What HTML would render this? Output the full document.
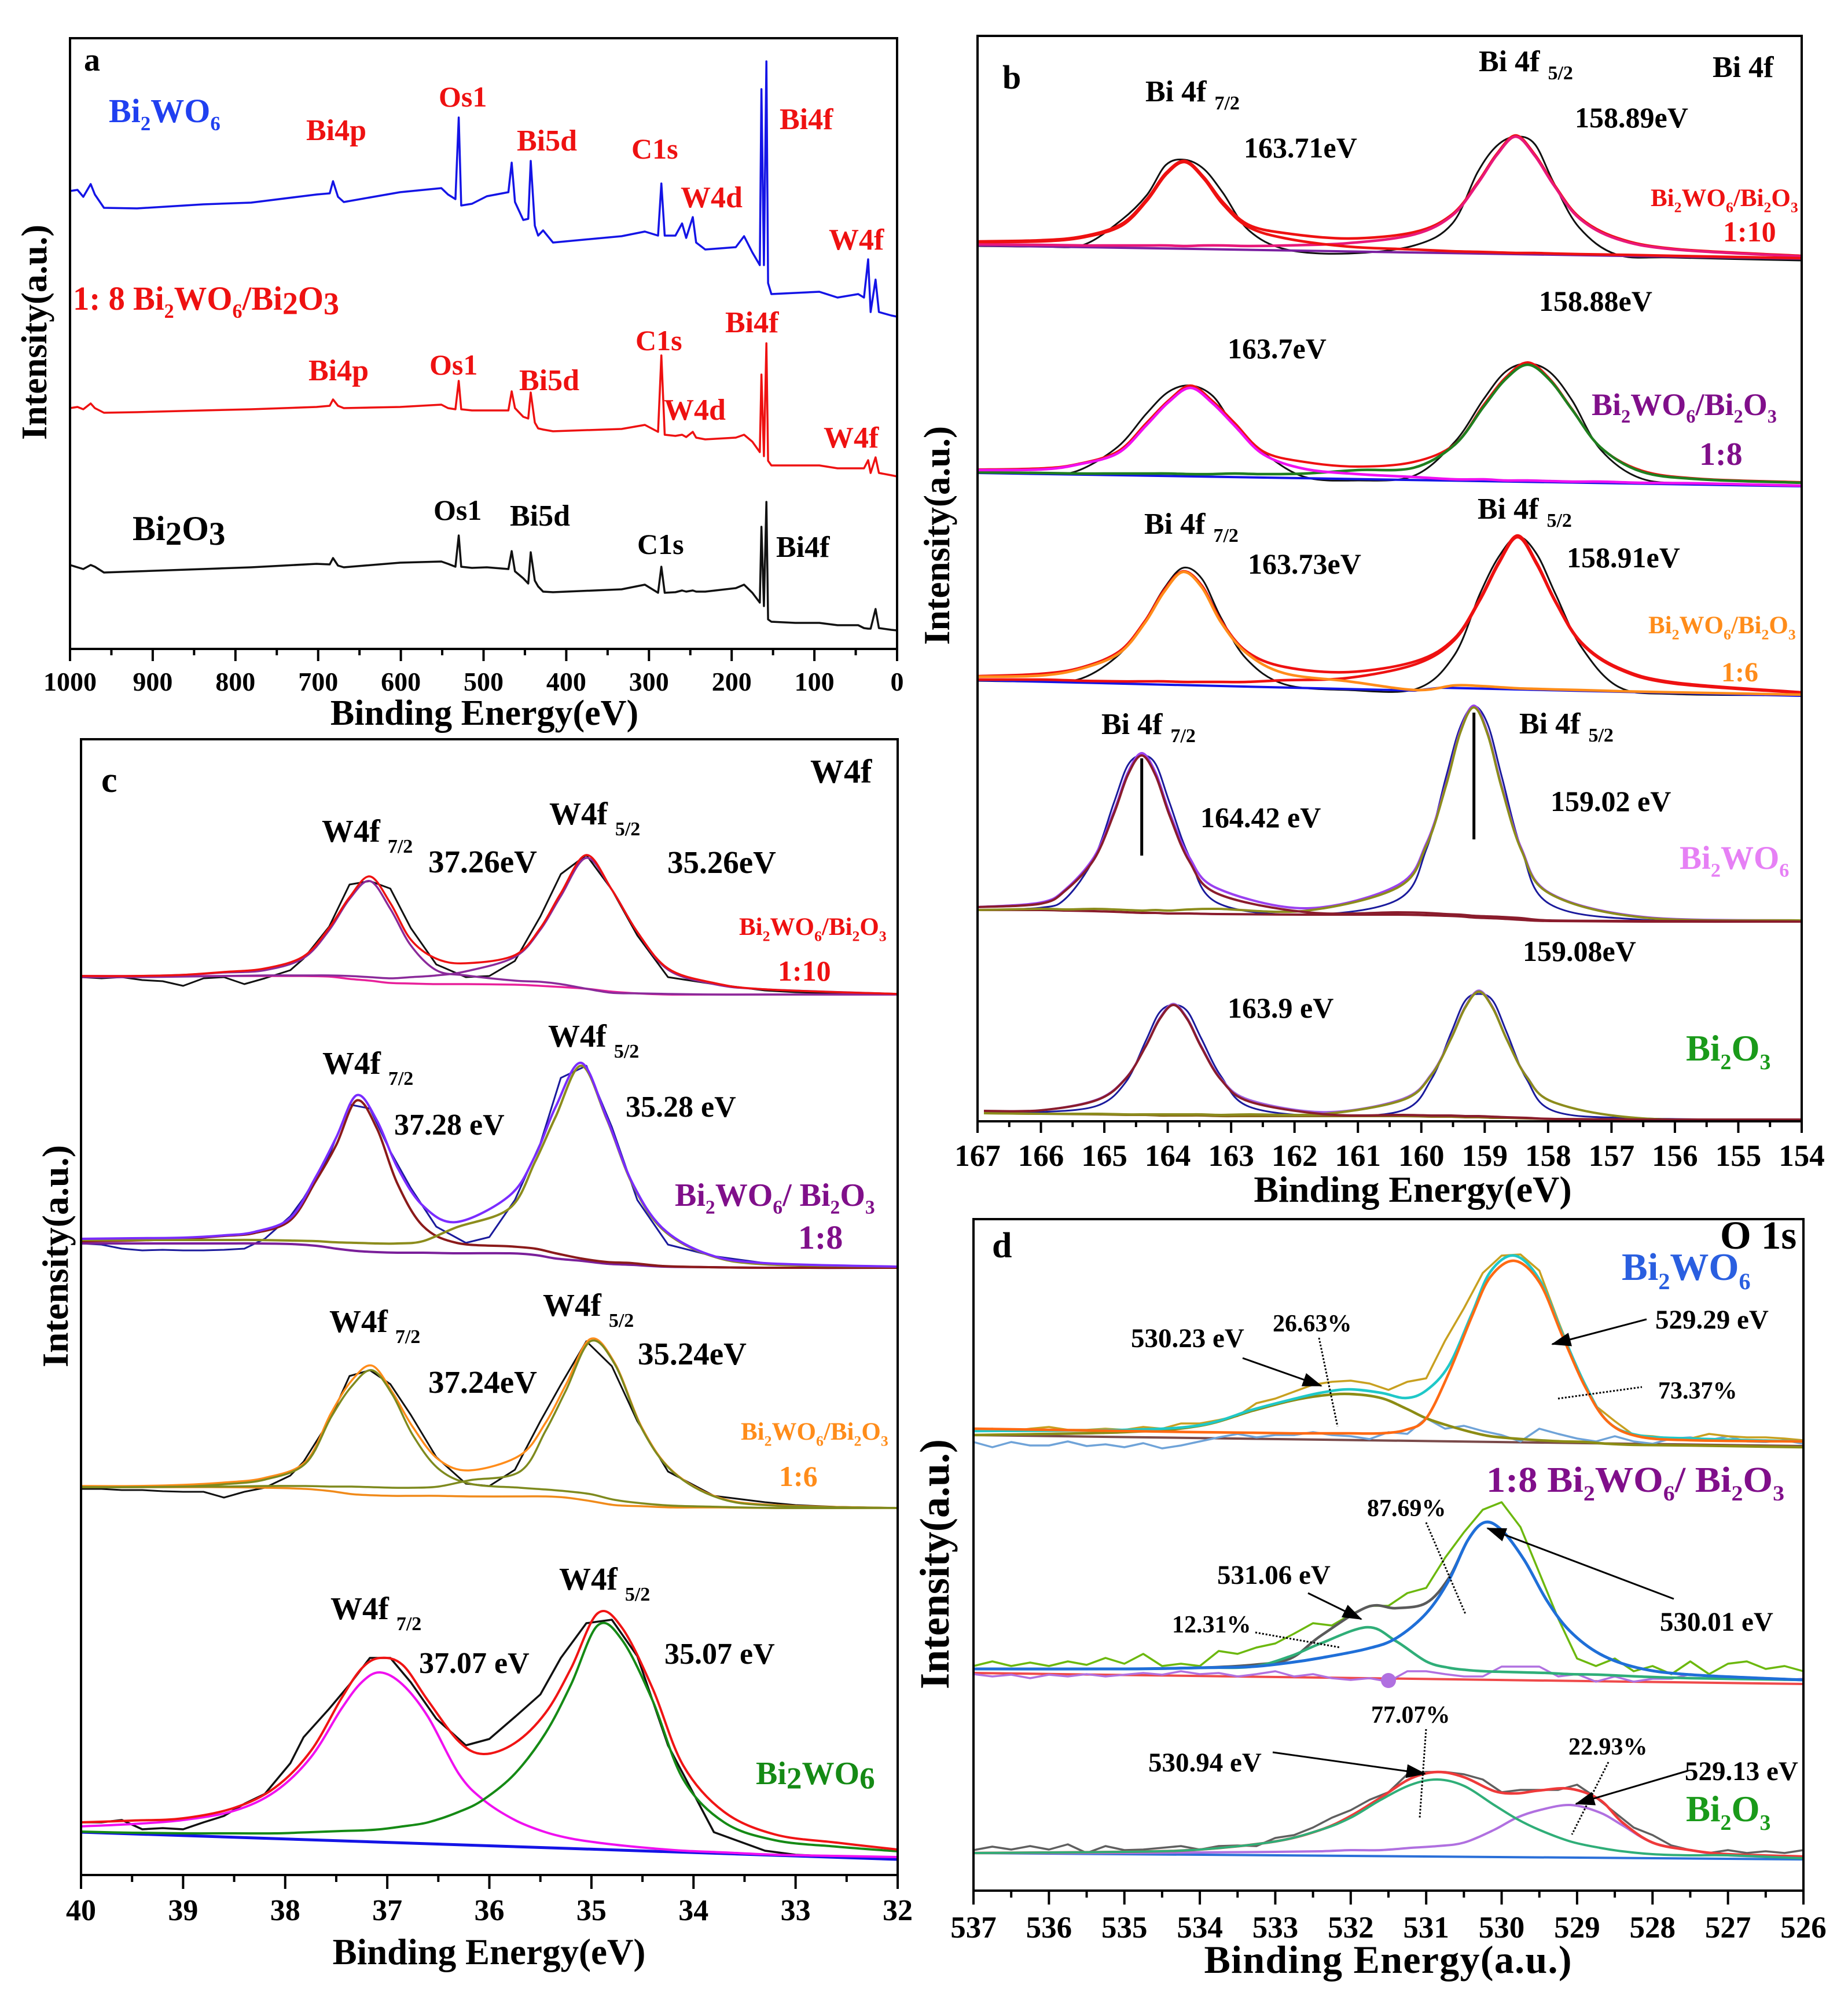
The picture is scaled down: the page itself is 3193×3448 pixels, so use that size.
<!DOCTYPE html>
<html lang="en">
<head>
<meta charset="utf-8">
<title>XPS spectra of Bi2WO6/Bi2O3</title>
<style>
html,body{margin:0;padding:0;background:#fff}
svg{display:block}
text{font-family:"Liberation Serif",serif;font-weight:bold}
.s{font-size:.6em}
.g{font-size:.95em}
</style>
</head>
<body>
<svg id="figure" xmlns="http://www.w3.org/2000/svg" width="3193" height="3448" viewBox="0 0 3193 3448">
<defs>
<marker id="arrow" markerUnits="userSpaceOnUse" markerWidth="34" markerHeight="24" refX="32" refY="12" orient="auto">
<path d="M0 0L34 12L0 24Z" fill="#000"/>
</marker>
</defs>
<rect width="3193" height="3448" fill="#fff"/>
<g id="plots"></g>
<g fill="none" stroke="#000" stroke-width="4">
<rect x="121" y="66" width="1429" height="1055"/>
<rect x="1689" y="62" width="1424" height="1875"/>
<rect x="140" y="1277" width="1411" height="1962"/>
<rect x="1682" y="2106" width="1434" height="1160"/>
</g>

<g>
<text x="145" y="122" font-size="56">a</text>
<text x="80" y="574" font-size="62" text-anchor="middle" transform="rotate(-90 80 574)">Intensity(a.u.)</text>
<text x="837" y="1252" font-size="62" text-anchor="middle">Binding Energy(eV)</text>
<text x="188" y="211" font-size="58" fill="#2040f0">Bi<tspan class="s" dy=".4em">2</tspan><tspan dy="-.24em">WO</tspan><tspan class="s" dy=".4em">6</tspan></text>
<g fill="#ee1111">
<text x="529" y="242" font-size="52">Bi4p</text>
<text x="758" y="184" font-size="50">Os1</text>
<text x="893" y="260" font-size="52">Bi5d</text>
<text x="1091" y="274" font-size="50">C1s</text>
<text x="1176" y="358" font-size="52">W4d</text>
<text x="1347" y="223" font-size="52">Bi4f</text>
<text x="1432" y="431" font-size="52">W4f</text>
<text x="126" y="535" font-size="58" textLength="460" lengthAdjust="spacingAndGlyphs">1: 8 Bi<tspan class="s" dy=".4em">2</tspan><tspan dy="-.24em">WO</tspan><tspan class="s" dy=".4em">6</tspan><tspan dy="-.24em">/Bi</tspan><tspan class="g" dy=".14em">2</tspan><tspan dy="-.13em">O</tspan><tspan class="g" dy=".14em">3</tspan></text>
<text x="533" y="657" font-size="52">Bi4p</text>
<text x="742" y="647" font-size="50">Os1</text>
<text x="897" y="674" font-size="52">Bi5d</text>
<text x="1098" y="605" font-size="50">C1s</text>
<text x="1147" y="725" font-size="52">W4d</text>
<text x="1253" y="574" font-size="52">Bi4f</text>
<text x="1423" y="773" font-size="52">W4f</text>
</g>
<text x="229" y="933" font-size="60">Bi<tspan class="g" dy=".14em">2</tspan><tspan dy="-.13em">O</tspan><tspan class="g" dy=".14em">3</tspan></text>
<text x="749" y="898" font-size="50">Os1</text>
<text x="881" y="908" font-size="52">Bi5d</text>
<text x="1101" y="957" font-size="50">C1s</text>
<text x="1341" y="962" font-size="52">Bi4f</text>
</g>

<g>
<text x="1732" y="153" font-size="58">b</text>
<text x="1640" y="925" font-size="63" text-anchor="middle" transform="rotate(-90 1640 925)">Intensity(a.u.)</text>
<text x="2441" y="2076" font-size="64" text-anchor="middle">Binding Energy(eV)</text>
<text x="2959" y="133" font-size="52">Bi 4f</text>
<text x="1979" y="175" font-size="52">Bi 4f<tspan dx="14" dy="14" font-size="34">7/2</tspan></text>
<text x="2555" y="123" font-size="52">Bi 4f<tspan dx="14" dy="14" font-size="34">5/2</tspan></text>
<text x="2149" y="272" font-size="50">163.71eV</text>
<text x="2721" y="220" font-size="50">158.89eV</text>
<text x="2852" y="356" font-size="43" fill="#ee1111">Bi<tspan class="s" dy=".4em">2</tspan><tspan dy="-.24em">WO</tspan><tspan class="s" dy=".4em">6</tspan><tspan dy="-.24em">/Bi</tspan><tspan class="s" dy=".4em">2</tspan><tspan dy="-.24em">O</tspan><tspan class="s" dy=".4em">3</tspan></text>
<text x="2977" y="417" font-size="50" fill="#ee1111">1:10</text>
<text x="2659" y="537" font-size="50">158.88eV</text>
<text x="2121" y="619" font-size="50">163.7eV</text>
<text x="2750" y="717" font-size="54" fill="#800f8a">Bi<tspan class="s" dy=".4em">2</tspan><tspan dy="-.24em">WO</tspan><tspan class="s" dy=".4em">6</tspan><tspan dy="-.24em">/Bi</tspan><tspan class="s" dy=".4em">2</tspan><tspan dy="-.24em">O</tspan><tspan class="s" dy=".4em">3</tspan></text>
<text x="2936" y="803" font-size="56" fill="#800f8a">1:8</text>
<text x="1977" y="922" font-size="52">Bi 4f<tspan dx="14" dy="14" font-size="34">7/2</tspan></text>
<text x="2553" y="896" font-size="52">Bi 4f<tspan dx="14" dy="14" font-size="34">5/2</tspan></text>
<text x="2156" y="991" font-size="50">163.73eV</text>
<text x="2707" y="980" font-size="50">158.91eV</text>
<text x="2848" y="1094" font-size="43" fill="#ff8c1a">Bi<tspan class="s" dy=".4em">2</tspan><tspan dy="-.24em">WO</tspan><tspan class="s" dy=".4em">6</tspan><tspan dy="-.24em">/Bi</tspan><tspan class="s" dy=".4em">2</tspan><tspan dy="-.24em">O</tspan><tspan class="s" dy=".4em">3</tspan></text>
<text x="2974" y="1177" font-size="48" fill="#ff8c1a">1:6</text>
<text x="1903" y="1268" font-size="52">Bi 4f<tspan dx="14" dy="14" font-size="34">7/2</tspan></text>
<text x="2625" y="1267" font-size="52">Bi 4f<tspan dx="14" dy="14" font-size="34">5/2</tspan></text>
<text x="2679" y="1401" font-size="50">159.02 eV</text>
<text x="2074" y="1429" font-size="50">164.42 eV</text>
<text x="2902" y="1501" font-size="57" fill="#e680f5">Bi<tspan class="s" dy=".4em">2</tspan><tspan dy="-.24em">WO</tspan><tspan class="s" dy=".4em">6</tspan></text>
<text x="2631" y="1660" font-size="50">159.08eV</text>
<text x="2121" y="1758" font-size="50">163.9 eV</text>
<text x="2913" y="1832" font-size="63" fill="#1a9a1a">Bi<tspan class="s" dy=".4em">2</tspan><tspan dy="-.24em">O</tspan><tspan class="s" dy=".4em">3</tspan></text>
</g>

<g>
<text x="175" y="1368" font-size="62">c</text>
<text x="117" y="2170" font-size="64" text-anchor="middle" transform="rotate(-90 117 2170)">Intensity(a.u.)</text>
<text x="845" y="3393" font-size="63" text-anchor="middle">Binding Energy(eV)</text>
<text x="1400" y="1352" font-size="58">W4f</text>
<text x="556" y="1454" font-size="55">W4f<tspan dx="13" dy="19" font-size="34">7/2</tspan></text>
<text x="949" y="1424" font-size="55">W4f<tspan dx="13" dy="19" font-size="34">5/2</tspan></text>
<text x="740" y="1507" font-size="55">37.26eV</text>
<text x="1153" y="1508" font-size="55">35.26eV</text>
<text x="1277" y="1615" font-size="43" fill="#ee1111">Bi<tspan class="s" dy=".4em">2</tspan><tspan dy="-.24em">WO</tspan><tspan class="s" dy=".4em">6</tspan><tspan dy="-.24em">/Bi</tspan><tspan class="s" dy=".4em">2</tspan><tspan dy="-.24em">O</tspan><tspan class="s" dy=".4em">3</tspan></text>
<text x="1344" y="1694" font-size="50" fill="#ee1111">1:10</text>
<text x="557" y="1855" font-size="55">W4f<tspan dx="13" dy="19" font-size="34">7/2</tspan></text>
<text x="947" y="1808" font-size="55">W4f<tspan dx="13" dy="19" font-size="34">5/2</tspan></text>
<text x="681" y="1960" font-size="52">37.28 eV</text>
<text x="1081" y="1929" font-size="52">35.28 eV</text>
<text x="1166" y="2083" font-size="56" fill="#800f8a">Bi<tspan class="s" dy=".4em">2</tspan><tspan dy="-.24em">WO</tspan><tspan class="s" dy=".4em">6</tspan><tspan dy="-.24em">/ Bi</tspan><tspan class="s" dy=".4em">2</tspan><tspan dy="-.24em">O</tspan><tspan class="s" dy=".4em">3</tspan></text>
<text x="1379" y="2157" font-size="58" fill="#800f8a">1:8</text>
<text x="569" y="2301" font-size="55">W4f<tspan dx="13" dy="19" font-size="34">7/2</tspan></text>
<text x="938" y="2273" font-size="55">W4f<tspan dx="13" dy="19" font-size="34">5/2</tspan></text>
<text x="1102" y="2357" font-size="55">35.24eV</text>
<text x="740" y="2406" font-size="55">37.24eV</text>
<text x="1280" y="2487" font-size="43" fill="#ff8c1a">Bi<tspan class="s" dy=".4em">2</tspan><tspan dy="-.24em">WO</tspan><tspan class="s" dy=".4em">6</tspan><tspan dy="-.24em">/Bi</tspan><tspan class="s" dy=".4em">2</tspan><tspan dy="-.24em">O</tspan><tspan class="s" dy=".4em">3</tspan></text>
<text x="1346" y="2567" font-size="50" fill="#ff8c1a">1:6</text>
<text x="571" y="2797" font-size="55">W4f<tspan dx="13" dy="19" font-size="34">7/2</tspan></text>
<text x="966" y="2746" font-size="55">W4f<tspan dx="13" dy="19" font-size="34">5/2</tspan></text>
<text x="724" y="2890" font-size="52">37.07 eV</text>
<text x="1148" y="2874" font-size="52">35.07 eV</text>
<text x="1306" y="3082" font-size="56" fill="#158a15">Bi<tspan class="g" dy=".14em">2</tspan><tspan dy="-.13em">WO</tspan><tspan class="g" dy=".14em">6</tspan></text>
</g>

<g>
<text x="1714" y="2172" font-size="62">d</text>
<text x="1639" y="2702" font-size="72" text-anchor="middle" transform="rotate(-90 1639 2702)">Intensity(a.u.)</text>
<text x="2398" y="3408" font-size="68" text-anchor="middle" textLength="635" lengthAdjust="spacing">Binding Energy(a.u.)</text>
<text x="2972" y="2157" font-size="69">O 1s</text>
<text x="2802" y="2211" font-size="67" fill="#2a5fe0">Bi<tspan class="s" dy=".4em">2</tspan><tspan dy="-.24em">WO</tspan><tspan class="s" dy=".4em">6</tspan></text>
<text x="2199" y="2300" font-size="42">26.63%</text>
<text x="1954" y="2327" font-size="47">530.23 eV</text>
<text x="2860" y="2295" font-size="47">529.29 eV</text>
<text x="2865" y="2416" font-size="42">73.37%</text>
<text x="2568" y="2577" font-size="62" fill="#800f8a" textLength="515" lengthAdjust="spacingAndGlyphs">1:8 Bi<tspan class="s" dy=".4em">2</tspan><tspan dy="-.24em">WO</tspan><tspan class="s" dy=".4em">6</tspan><tspan dy="-.24em">/ Bi</tspan><tspan class="s" dy=".4em">2</tspan><tspan dy="-.24em">O</tspan><tspan class="s" dy=".4em">3</tspan></text>
<text x="2362" y="2619" font-size="42">87.69%</text>
<text x="2103" y="2736" font-size="47">531.06 eV</text>
<text x="2025" y="2820" font-size="42">12.31%</text>
<text x="2868" y="2817" font-size="47">530.01 eV</text>
<text x="2369" y="2976" font-size="42">77.07%</text>
<text x="1984" y="3060" font-size="47">530.94 eV</text>
<text x="2710" y="3031" font-size="42">22.93%</text>
<text x="2911" y="3075" font-size="47">529.13 eV</text>
<text x="2913" y="3146" font-size="63" fill="#1a9a1a">Bi<tspan class="s" dy=".4em">2</tspan><tspan dy="-.24em">O</tspan><tspan class="s" dy=".4em">3</tspan></text>
<g stroke="#000" stroke-width="3" fill="none">
<line x1="2147" y1="2346" x2="2283" y2="2394" marker-end="url(#arrow)"/>
<line x1="2845" y1="2279" x2="2682" y2="2322" marker-end="url(#arrow)"/>
<line x1="2260" y1="2752" x2="2352" y2="2797" marker-end="url(#arrow)"/>
<line x1="2892" y1="2762" x2="2570" y2="2640" marker-end="url(#arrow)"/>
<line x1="2199" y1="3027" x2="2462" y2="3064" marker-end="url(#arrow)"/>
<line x1="2916" y1="3059" x2="2723" y2="3116" marker-end="url(#arrow)"/>
</g>
<g stroke="#000" stroke-width="3" stroke-dasharray="3 3" fill="none">
<line x1="2279" y1="2311" x2="2311" y2="2464"/>
<line x1="2692" y1="2416" x2="2837" y2="2396"/>
<line x1="2464" y1="2630" x2="2532" y2="2788"/>
<line x1="2169" y1="2820" x2="2316" y2="2846"/>
<line x1="2464" y1="2987" x2="2453" y2="3140"/>
<line x1="2779" y1="3044" x2="2716" y2="3169"/>
</g>
<circle cx="2399" cy="2903" r="13" fill="#b070e0"/>
</g>
</svg>
<script>
/* ---------- Panel a: survey spectra ---------- */
const aEnergy=[1000,991,984,975,970,959,919,839,781,702,686,682,676,669,601,551,543,534,530,527,514,496,470,466,462,452,446,443,438,434,428,416,333,305,289,285,281,268,260,255,247,243,232,195,185,175,166,164,161,158,156,152,123,94,72,47,40,35,32,26,22,7,0];
const aBi2WO6=[792,794,782,804,786,763,762,769,772,786,788,809,782,773,790,797,786,778,919,767,770,783,790,841,773,742,744,844,732,715,724,703,714,722,715,805,715,715,736,711,747,703,691,695,714,686,664,968,664,1016,633,614,616,618,608,614,608,674,583,639,583,577,575];
const aComposite=[417,419,415,425,417,409,410,413,415,419,421,432,421,417,419,423,417,415,464,415,413,413,413,446,417,402,399,444,392,382,380,377,381,388,376,508,371,369,371,367,376,366,363,366,371,359,341,475,334,529,326,318,318,318,313,313,313,327,305,332,305,301,299];
const aBi2O3=[146,142,139,146,143,133,135,139,142,148,147,158,145,142,150,152,148,143,197,143,141,142,139,170,135,123,114,168,119,109,100,99,104,112,98,143,98,99,102,100,102,100,100,106,112,98,81,212,75,255,52,48,46,46,42,42,37,36,36,70,37,34,33];
const aTicks=[1000,900,800,700,600,500,400,300,200,100,0];

/* ---------- Panel b: Bi 4f ---------- */
const bTicks=[167,166,165,164,163,162,161,160,159,158,157,156,155,154];
const bStackOffsets=[1490,1097,735,345,3];
const b1Energy=[167,166,165.33,164.73,164.33,164.03,163.73,163.43,163.13,162.73,162.13,161.15,160.11,159.51,159.11,158.81,158.51,158.21,157.91,157.51,156.91,156,154];
const b1Raw=[22,21,24,67,110,162,171,155,114,50,16,9,23,61,150,195,211,198,131,54,7,2,-3];
const b1Envelope=[30,32,39,60,103,148,169,141,98,59,44,35,46,77,132,181,213,180,129,72,36,17,5];
const b1PeakA=[29,30,37,57,100,145,167,138,94,55,35,21,16,13,12,11,10,10,9,8,7,5,1];
const b1PeakB=[25,24,23,23,23,23,22,23,23,22,23,27,42,75,130,179,211,178,127,70,34,16,4];
const b1BgEnergy=[167,154];
const b1Background=[23,0];
const b2Energy=[167,166,165.44,164.79,164.34,163.99,163.64,163.29,162.94,162.49,161.84,161,160.12,159.47,159.02,158.67,158.32,157.97,157.62,157.17,156.52,155.6,154];
const b2Raw=[23,22,26,68,125,163,174,156,103,58,16,10,18,77,150,198,212,197,148,63,13,5,0];
const b2Envelope=[29,31,38,60,109,148,174,147,109,60,42,34,42,73,140,188,214,185,133,67,27,13,7];
const b2PeakA=[28,29,37,57,105,145,170,143,104,55,30,21,16,12,12,10,10,9,8,8,6,5,1];
const b2PeakB=[24,23,22,22,22,22,21,21,22,21,22,28,32,72,137,185,210,183,132,67,25,12,6];
const b2BgEnergy=[167,154];
const b2Background=[23,0];
const b3Energy=[167,166,165.36,164.76,164.36,164.06,163.76,163.46,163.16,162.76,162.16,161.15,160.08,159.48,159.08,158.78,158.48,158.18,157.88,157.48,156.88,156,154];
const b3Raw=[26,25,30,72,130,185,221,202,135,64,20,10,12,70,175,240,275,245,175,85,15,3,1];
const b3Envelope=[34,38,49,77,129,182,215,190,130,77,50,41,60,99,167,231,277,230,163,93,48,23,6];
const b3PeakA=[33,35,47,74,126,179,214,187,127,74,39,25,10,18,17,15,13,12,11,10,8,6,2];
const b3PeakB=[28,28,26,25,25,25,24,24,24,24,27,31,55,96,164,228,274,227,161,91,46,21,5];
const b3BgEnergy=[167,160.1,159.7,154];
const b3Background=[27,9,14,0];
const b4Energy=[167,166,165.61,165.16,164.85,164.63,164.41,164.19,163.97,163.66,163.21,161.8,160.37,159.92,159.61,159.39,159.17,158.95,158.73,158.42,157.97,156.5,154];
const b4Raw=[20,24,40,110,205,270,287,272,205,112,32,12,38,125,250,335,372,340,250,125,30,3,0];
const b4Envelope=[25,33,56,112,190,257,291,257,188,111,57,23,63,135,238,328,373,325,233,126,49,8,2];
const b4PeakA=[25,31,54,108,186,253,287,252,183,104,48,16,16,15,13,12,10,9,8,6,2,1,0];
const b4PeakB=[20,22,21,22,21,20,19,20,19,21,22,19,59,131,235,325,370,322,230,123,48,7,2];
const b4Background=[20,20,19,18,17,16,15,15,14,14,13,12,12,11,10,9,7,6,5,3,1,0,0];
const b4MarkEnergy=[164.41,159.17];
const b4MarkTop=[282,361];
const b4MarkBottom=[114,142];
const b5Energy=[166.9,166,165.11,164.66,164.35,164.13,163.91,163.69,163.47,163.16,162.71,161.5,160.29,159.84,159.53,159.31,159.09,158.87,158.65,158.34,157.89,156.5,154];
const b5Raw=[13,13,24,65,135,185,198,187,140,75,22,6,16,70,150,205,217,205,150,70,14,2,0];
const b5Envelope=[15,16,35,72,127,175,200,175,127,71,34,13,36,79,142,195,223,194,139,75,29,2,0];
const b5PeakA=[15,16,34,71,126,173,198,173,125,69,31,9,8,7,7,6,6,5,4,3,1,0,0];
const b5PeakB=[11,10,10,9,9,9,9,9,9,8,9,10,34,77,140,193,221,192,138,74,29,2,0];
const b5Background=[11,10,9,8,8,7,7,7,7,6,6,6,6,5,5,4,4,3,3,2,1,0,0];

/* ---------- Panel c: W 4f ---------- */
const cTicks=[40,39,38,37,36,35,34,33,32];
const cStackOffsets=[1521,1049,634,27];
const cRawEnergy=[40,39.8,39.6,39.4,39.2,39,38.8,38.6,38.4,38.2,37.95,37.82,37.57,37.37,37.17,36.97,36.77,36.52,36.23,36,35.75,35.5,35.3,35.05,34.8,34.55,34.25,33.8,33.3,33,32.6,32];
const c1Raw=[30,28,30,25,23,15,28,30,18,28,42,62,117,190,196,183,115,52,30,32,58,135,208,241,181,102,30,18,7,4,2,0];
const c1Energy=[40,39.5,39,38.6,38.2,37.82,37.57,37.37,37.17,36.97,36.77,36.52,36.23,35.75,35.5,35.3,35.05,34.8,34.55,34.25,33.8,33.3,32];
const c1Envelope=[32,32,34,39,45,66,115,168,204,158,95,62,54,68,115,175,241,181,108,45,20,9,1];
const c1PeakA=[32,32,34,38,42,63,111,165,196,148,85,42,33,24,22,18,10,3,2,1,0,0,0];
const c1PeakB=[30,30,31,32,33,33,33,32,30,28,30,33,40,65,112,170,236,181,108,43,18,9,1];
const c1Background=[32,32,32,32,32,32,31,27,24,20,19,18,18,17,15,13,10,5,2,0,0,0,0];
const c2Raw=[42,40,33,30,31,30,30,31,33,50,89,120,194,282,275,201,138,71,43,53,117,215,328,349,243,117,40,20,8,4,1,0];
const c2Energy=[40,39.5,39,38.6,38.3,37.95,37.7,37.5,37.3,37.1,36.9,36.65,36.32,35.8,35.55,35.35,35.1,34.85,34.6,34.3,33.85,33.3,32];
const c2Envelope=[50,51,52,56,62,86,157,225,298,254,173,107,79,125,194,278,354,259,147,68,23,8,2];
const c2PeakA=[46,47,50,55,60,82,150,212,289,240,145,72,43,37,33,25,16,10,8,3,1,0,0];
const c2PeakB=[48,48,48,48,48,47,46,44,43,42,42,46,70,103,184,261,349,257,145,66,22,6,2];
const c2Background=[42,42,42,42,42,41,38,33,29,27,26,26,25,25,22,16,12,7,5,2,1,0,0];
const c3Raw=[33,33,31,31,29,28,28,18,28,35,56,80,150,228,238,214,161,88,42,38,66,150,213,288,245,150,63,21,10,5,2,0];
const c3Energy=[40,39.5,39,38.6,38.2,37.8,37.55,37.35,37.15,36.95,36.75,36.5,36.19,35.7,35.45,35.25,35.01,34.77,34.5,34.2,33.75,33.2,32];
const c3Envelope=[38,38,40,44,52,80,164,220,246,200,140,84,65,91,147,213,292,250,137,63,18,5,0];
const c3PeakA=[36,36,37,41,49,77,157,210,238,196,126,68,42,35,32,29,24,14,8,4,2,0,0];
const c3PeakB=[36,36,37,37,38,38,37,37,36,35,35,37,48,63,133,203,288,248,135,62,17,4,0];
const c3Background=[36,36,36,36,35,33,29,24,22,21,21,21,20,20,20,18,12,5,3,1,1,0,0];
const c4Raw=[64,64,68,52,54,52,64,75,96,113,166,211,260,302,348,348,306,243,197,208,246,285,348,408,414,351,197,47,15,8,5,0];
const c4Energy=[40,39.5,39,38.5,38.1,37.75,37.45,37.25,37.07,36.85,36.6,36.3,36.06,35.75,35.45,35.2,34.94,34.7,34.4,34.1,33.7,33.2,32.6,32];
const c4Envelope=[64,67,71,89,124,187,278,330,348,336,274,204,182,201,253,330,425,400,295,162,82,43,29,17];
const c4PeakA=[57,61,68,84,117,176,260,306,323,302,246,148,103,68,47,36,29,24,19,15,12,8,6,4];
const c4PeakB=[48,46,45,45,45,47,49,50,52,57,64,82,103,148,218,302,404,379,274,138,64,33,22,14];
const c4BgEnergy=[40,32];
const c4Background=[47,0];

/* ---------- Panel d: O 1s ---------- */
const dTicks=[537,536,535,534,533,532,531,530,529,528,527,526];
const dStackOffsets=[766,357,54];
const dRawEnergy=[537,536.75,536.5,536.25,536,535.75,535.5,535.25,535,534.75,534.5,534.25,534,533.75,533.5,533.25,533,532.75,532.5,532.25,532,531.75,531.5,531.25,531,530.75,530.5,530.25,530,529.75,529.5,529.25,529,528.75,528.5,528.25,528,527.75,527.5,527.25,527,526.75,526.5,526.25,526];
const dBgEnergy=[537,526];
const d1Raw=[30,32,28,32,35,30,30,32,30,35,32,41,41,47,54,76,84,96,108,113,115,110,99,113,119,184,240,301,331,333,305,218,136,71,45,21,19,15,15,23,19,17,17,15,12];
const d1Residual=[9,0,9,3,3,10,2,5,0,7,-2,3,10,17,23,17,21,21,26,21,19,14,26,23,50,32,37,28,21,10,32,23,15,10,19,10,6,15,17,12,19,10,9,12,6];
const d1Energy=[537,535,534,533.3,532.8,532.4,532.02,531.6,531.27,531,530.7,530.4,530.15,529.83,529.5,529.2,528.9,528.6,528.2,527.5,526];
const d1Envelope=[28,30,38,65,82,94,100,94,85,98,141,229,303,331,290,198,110,45,21,15,10];
const d1PeakA=[21,26,37,63,80,89,92,85,67,50,37,26,19,15,12,10,9,6,4,3,0];
const d1PeakB=[32,28,26,25,24,24,24,24,30,50,128,224,294,322,285,194,106,45,19,12,10];
const d1Background=[21,2];
const d2Raw=[31,39,31,37,31,39,33,45,35,52,31,35,31,57,52,63,70,87,105,101,120,135,135,157,166,218,262,301,314,271,192,113,44,31,44,22,31,17,39,17,35,39,26,31,22];
const d2Residual=[17,13,16,10,16,13,17,13,16,19,16,22,17,19,13,17,22,13,17,10,7,10,4,22,22,17,13,13,30,30,30,13,17,4,13,4,9,9,17,13,13,10,9,7,9];
const d2Energy=[537,535,534,533.3,532.8,532.4,531.78,531.4,531,530.7,530.45,530.23,530,529.7,529.4,529.1,528.7,528.2,527.5,526];
const d2Envelope=[26,26,28,33,44,83,133,131,140,183,248,279,266,214,144,92,52,28,16,7];
const d2PeakA=[26,26,28,30,48,70,98,74,39,28,24,22,21,20,19,17,16,13,10,7];
const d2PeakB=[26,26,28,30,37,45,61,79,122,179,248,279,266,214,144,92,52,28,16,7];
const d2Background=[19,0];
const d3Raw=[16,22,17,23,17,26,11,23,16,17,20,23,17,23,24,23,37,42,55,72,85,103,116,147,151,151,147,138,116,120,120,120,129,107,81,55,42,24,16,11,16,11,14,11,16];
const d3Energy=[537,535,534,533,532.4,532,531.6,531.2,530.85,530.5,530.1,529.8,529.5,529.09,528.7,528.4,528,527.5,527,526];
const d3Envelope=[11,13,17,31,51,75,107,140,151,142,118,114,119,122,103,64,29,16,9,5];
const d3PeakA=[11,13,17,31,51,72,103,129,138,127,94,70,51,31,20,14,9,7,7,2];
const d3PeakB=[11,11,12,13,14,16,16,20,23,29,51,72,85,94,81,59,29,16,7,3];
const d3Background=[11,0];

const NS='http://www.w3.org/2000/svg';
const plots=document.getElementById('plots');

function makePanel(key,left,right,eStart,eEnd,bottom){
  const k=(right-left)/(eStart-eEnd);
  return {key:key,bottom:bottom,x:function(e){return left+(eStart-e)*k;},y:function(v,offset){return bottom-(offset||0)-v;}};
}
const panelA=makePanel('a',121,1550,1000,0,1122);
const panelB=makePanel('b',1689,3113,167,154,1937);
const panelC=makePanel('c',140,1551,40,32,3239);
const panelD=makePanel('d',1682,3116,537,526,3266);

function straightPath(p){
  return p.map(function(q,i){return (i?'L':'M')+q[0].toFixed(1)+' '+q[1].toFixed(1);}).join('');
}
function smoothPath(p){
  let d='M'+p[0][0].toFixed(1)+' '+p[0][1].toFixed(1);
  for(let i=0;i<p.length-1;i++){
    const a=p[i-1]||p[i],b=p[i],c=p[i+1],e=p[i+2]||c;
    const c1x=b[0]+(c[0]-a[0])/6,c1y=b[1]+(c[1]-a[1])/6;
    const c2x=c[0]-(e[0]-b[0])/6,c2y=c[1]-(e[1]-b[1])/6;
    d+='C'+c1x.toFixed(1)+' '+c1y.toFixed(1)+' '+c2x.toFixed(1)+' '+c2y.toFixed(1)+' '+c[0].toFixed(1)+' '+c[1].toFixed(1);
  }
  return d;
}
function drawSeries(panel,offset,energy,values,color,width,smooth,name){
  const pts=[];
  for(let i=0;i<energy.length;i++){
    if(typeof values[i]==='number'){pts.push([panel.x(energy[i]),panel.y(values[i],offset)]);}
  }
  const el=document.createElementNS(NS,'path');
  el.setAttribute('d',smooth?smoothPath(pts):straightPath(pts));
  el.setAttribute('fill','none');
  el.setAttribute('stroke',color);
  el.setAttribute('stroke-width',width);
  el.setAttribute('stroke-linejoin','round');
  
  
  plots.appendChild(el);
}
function drawAxis(panel,ticks,majorLen,minorLen,fontSize,baseline){
  for(let i=0;i<ticks.length;i++){
    const x=panel.x(ticks[i]);
    const t=document.createElementNS(NS,'line');
    t.setAttribute('x1',x);
    t.setAttribute('x2',x);
    t.setAttribute('y1',panel.bottom);
    t.setAttribute('y2',panel.bottom+majorLen);
    t.setAttribute('stroke','#000');
    t.setAttribute('stroke-width','4');
    
    
    plots.appendChild(t);
    const lab=document.createElementNS(NS,'text');
    lab.setAttribute('x',x);
    lab.setAttribute('y',baseline);
    lab.setAttribute('font-size',fontSize);
    lab.setAttribute('text-anchor','middle');
    
    
    lab.textContent=String(ticks[i]);
    plots.appendChild(lab);
    if(i<ticks.length-1){
      const mx=panel.x((ticks[i]+ticks[i+1])/2);
      const m=document.createElementNS(NS,'line');
      m.setAttribute('x1',mx);
      m.setAttribute('x2',mx);
      m.setAttribute('y1',panel.bottom);
      m.setAttribute('y2',panel.bottom+minorLen);
      m.setAttribute('stroke','#000');
      m.setAttribute('stroke-width','4');
      
      
      plots.appendChild(m);
    }
  }
}

/* panel a */
drawSeries(panelA,0,aEnergy,aBi2WO6,'#1414e6',3.5,false,'survey-bi2wo6');
drawSeries(panelA,0,aEnergy,aComposite,'#ee1111',3.5,false,'survey-composite-1-8');
drawSeries(panelA,0,aEnergy,aBi2O3,'#111111',3.5,false,'survey-bi2o3');
drawAxis(panelA,aTicks,20,10,46,1193);

/* panel b */
drawSeries(panelB,bStackOffsets[0],b1Energy,b1Raw,'#111111',3,true,'b1-raw');
drawSeries(panelB,bStackOffsets[0],b1BgEnergy,b1Background,'#7a1fa0',4,false,'b1-background');
drawSeries(panelB,bStackOffsets[0],b1Energy,b1Envelope,'#ee1111',4.5,true,'b1-envelope');
drawSeries(panelB,bStackOffsets[0],b1Energy,b1PeakB,'#e8187a',4.5,true,'b1-peak-5-2-fit');
drawSeries(panelB,bStackOffsets[0],b1Energy,b1PeakA,'#ee1111',4.5,true,'b1-peak-7-2-fit');

drawSeries(panelB,bStackOffsets[1],b2Energy,b2Raw,'#111111',3,true,'b2-raw');
drawSeries(panelB,bStackOffsets[1],b2BgEnergy,b2Background,'#1414e6',4,false,'b2-background');
drawSeries(panelB,bStackOffsets[1],b2Energy,b2Envelope,'#ee1111',4,true,'b2-envelope');
drawSeries(panelB,bStackOffsets[1],b2Energy,b2PeakB,'#1f7f1f',4.5,true,'b2-peak-5-2-fit');
drawSeries(panelB,bStackOffsets[1],b2Energy,b2PeakA,'#f010f0',4.5,true,'b2-peak-7-2-fit');

drawSeries(panelB,bStackOffsets[2],b3Energy,b3Raw,'#111111',3,true,'b3-raw');
drawSeries(panelB,bStackOffsets[2],b3BgEnergy,b3Background,'#1414e6',4,false,'b3-background');
drawSeries(panelB,bStackOffsets[2],b3Energy,b3Envelope,'#ee1111',4.5,true,'b3-envelope');
drawSeries(panelB,bStackOffsets[2],b3Energy,b3PeakB,'#ee1111',4.5,true,'b3-peak-5-2-fit');
drawSeries(panelB,bStackOffsets[2],b3Energy,b3PeakA,'#ff8c1a',4.5,true,'b3-peak-7-2-fit');

drawSeries(panelB,bStackOffsets[3],b4Energy,b4Raw,'#1a1a9c',3,true,'b4-raw');
drawSeries(panelB,bStackOffsets[3],b4Energy,b4Envelope,'#9a40f0',4,true,'b4-envelope');
drawSeries(panelB,bStackOffsets[3],b4Energy,b4Background,'#8a1c2c',4,true,'b4-background');
drawSeries(panelB,bStackOffsets[3],b4Energy,b4PeakB,'#8c8c1c',4,true,'b4-peak-5-2-fit');
drawSeries(panelB,bStackOffsets[3],b4Energy,b4PeakA,'#8a1c2c',4,true,'b4-peak-7-2-fit');
for(let i=0;i<b4MarkEnergy.length;i++){
  const mark=document.createElementNS(NS,'line');
  mark.setAttribute('x1',panelB.x(b4MarkEnergy[i]));
  mark.setAttribute('x2',panelB.x(b4MarkEnergy[i]));
  mark.setAttribute('y1',panelB.y(b4MarkTop[i],bStackOffsets[3]));
  mark.setAttribute('y2',panelB.y(b4MarkBottom[i],bStackOffsets[3]));
  mark.setAttribute('stroke','#000');
  mark.setAttribute('stroke-width','5');
  
  
  plots.appendChild(mark);
}

drawSeries(panelB,bStackOffsets[4],b5Energy,b5Raw,'#1a1a9c',3,true,'b5-raw');
drawSeries(panelB,bStackOffsets[4],b5Energy,b5Envelope,'#a060e0',3.5,true,'b5-envelope');
drawSeries(panelB,bStackOffsets[4],b5Energy,b5Background,'#8a6a1c',4,true,'b5-background');
drawSeries(panelB,bStackOffsets[4],b5Energy,b5PeakB,'#8c8c1c',4,true,'b5-peak-5-2-fit');
drawSeries(panelB,bStackOffsets[4],b5Energy,b5PeakA,'#8a1c2c',4,true,'b5-peak-7-2-fit');
drawAxis(panelB,bTicks,20,10,53,2014);

/* panel c */
drawSeries(panelC,cStackOffsets[0],cRawEnergy,c1Raw,'#111111',3,false,'c1-raw');
drawSeries(panelC,cStackOffsets[0],c1Energy,c1Background,'#e8209a',3.5,true,'c1-background');
drawSeries(panelC,cStackOffsets[0],c1Energy,c1PeakB,'#8a2a9a',3.5,true,'c1-peak-5-2-fit');
drawSeries(panelC,cStackOffsets[0],c1Energy,c1PeakA,'#8a2a9a',3.5,true,'c1-peak-7-2-fit');
drawSeries(panelC,cStackOffsets[0],c1Energy,c1Envelope,'#ee1111',3.5,true,'c1-envelope');

drawSeries(panelC,cStackOffsets[1],cRawEnergy,c2Raw,'#1a1a9c',3,false,'c2-raw');
drawSeries(panelC,cStackOffsets[1],c2Energy,c2Background,'#7a1f9a',4,true,'c2-background');
drawSeries(panelC,cStackOffsets[1],c2Energy,c2PeakA,'#8b1a1a',4,true,'c2-peak-7-2-fit');
drawSeries(panelC,cStackOffsets[1],c2Energy,c2PeakB,'#8c8c1c',4,true,'c2-peak-5-2-fit');
drawSeries(panelC,cStackOffsets[1],c2Energy,c2Envelope,'#7a2cff',4,true,'c2-envelope');

drawSeries(panelC,cStackOffsets[2],cRawEnergy,c3Raw,'#111111',3,false,'c3-raw');
drawSeries(panelC,cStackOffsets[2],c3Energy,c3Background,'#f08a1a',3.5,true,'c3-background');
drawSeries(panelC,cStackOffsets[2],c3Energy,c3Envelope,'#ff8c1a',3.5,true,'c3-envelope');
drawSeries(panelC,cStackOffsets[2],c3Energy,c3PeakB,'#7e8a1e',3.5,true,'c3-peak-5-2-fit');
drawSeries(panelC,cStackOffsets[2],c3Energy,c3PeakA,'#7e8a1e',3.5,true,'c3-peak-7-2-fit');

drawSeries(panelC,cStackOffsets[3],cRawEnergy,c4Raw,'#111111',3.5,false,'c4-raw');
drawSeries(panelC,cStackOffsets[3],c4BgEnergy,c4Background,'#1414e6',5,false,'c4-background');
drawSeries(panelC,cStackOffsets[3],c4Energy,c4PeakA,'#f010f0',4,true,'c4-peak-7-2-fit');
drawSeries(panelC,cStackOffsets[3],c4Energy,c4PeakB,'#158a15',4,true,'c4-peak-5-2-fit');
drawSeries(panelC,cStackOffsets[3],c4Energy,c4Envelope,'#f01414',4,true,'c4-envelope');
drawAxis(panelC,cTicks,24,12,52,3317);

/* panel d */
drawSeries(panelD,dStackOffsets[0],dBgEnergy,d1Background,'#7a4a4a',4,false,'d1-background');
drawSeries(panelD,dStackOffsets[0],dRawEnergy,d1Residual,'#6fa3d8',3.5,false,'d1-residual');
drawSeries(panelD,dStackOffsets[0],dRawEnergy,d1Raw,'#c8a020',3.5,false,'d1-raw');
drawSeries(panelD,dStackOffsets[0],d1Energy,d1PeakA,'#8c8c14',4.5,true,'d1-peak-high-energy');
drawSeries(panelD,dStackOffsets[0],d1Energy,d1Envelope,'#1fc8c8',4.5,true,'d1-envelope');
drawSeries(panelD,dStackOffsets[0],d1Energy,d1PeakB,'#ff6a13',4.5,true,'d1-peak-low-energy');

drawSeries(panelD,dStackOffsets[1],dBgEnergy,d2Background,'#ef4a4a',4,false,'d2-background');
drawSeries(panelD,dStackOffsets[1],dRawEnergy,d2Residual,'#b070e0',3.5,false,'d2-residual');
drawSeries(panelD,dStackOffsets[1],dRawEnergy,d2Raw,'#6cb80e',3.5,false,'d2-raw');
drawSeries(panelD,dStackOffsets[1],d2Energy,d2Envelope,'#5a5a5a',4.5,true,'d2-envelope');
drawSeries(panelD,dStackOffsets[1],d2Energy,d2PeakA,'#2fae78',4.5,true,'d2-peak-high-energy');
drawSeries(panelD,dStackOffsets[1],d2Energy,d2PeakB,'#1f6fd8',5,true,'d2-peak-low-energy');

drawSeries(panelD,dStackOffsets[2],dRawEnergy,d3Raw,'#5f5f5f',3.5,false,'d3-raw');
drawSeries(panelD,dStackOffsets[2],dBgEnergy,d3Background,'#2a6fd8',4,false,'d3-background');
drawSeries(panelD,dStackOffsets[2],d3Energy,d3PeakB,'#b070e0',4,true,'d3-peak-low-energy');
drawSeries(panelD,dStackOffsets[2],d3Energy,d3Envelope,'#ef3a3a',4.5,true,'d3-envelope');
drawSeries(panelD,dStackOffsets[2],d3Energy,d3PeakA,'#2fae78',4,true,'d3-peak-high-energy');
drawAxis(panelD,dTicks,24,12,53,3347);
</script>
</body>
</html>
